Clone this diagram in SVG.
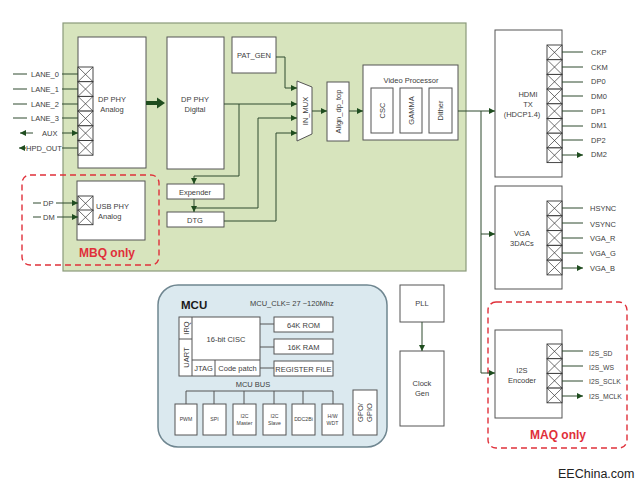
<svg xmlns="http://www.w3.org/2000/svg" xmlns:xlink="http://www.w3.org/1999/xlink" width="640" height="485" viewBox="0 0 640 485">
<style>
text{font-family:"Liberation Sans","Open Sans",sans-serif;fill:#404040;font-size:7.5px}
.c{text-anchor:middle}
.box{fill:#fff;stroke:#555;stroke-width:1}
.ln{fill:none;stroke:#2f4a2f;stroke-width:1}
.ar{fill:none;stroke:#2f4a2f;stroke-width:1;marker-end:url(#ah)}
.dash{fill:none;stroke:#e0303a;stroke-width:1.4;stroke-dasharray:6 4}
.red{fill:#e0303a;font-weight:bold;font-size:12px}
.sm{font-size:5.2px}
.s7{font-size:6.8px}
</style>
<defs>
<marker id="ah" viewBox="0 0 10 10" refX="10" refY="5" markerWidth="7" markerHeight="6" markerUnits="userSpaceOnUse" orient="auto"><path d="M0,0L10,5L0,10z" fill="#1f4d1f"/></marker>
<g id="xc"><rect width="15" height="14.7" fill="#fff" stroke="#333" stroke-width="0.9"/><path d="M0,0L15,14.7M15,0L0,14.7" stroke="#333" stroke-width="0.7"/></g>
</defs>

<g id="main-block"><rect x="63" y="23" width="403" height="248" fill="#d7e4bd" stroke="#8a9a7a" stroke-width="1.2"/></g>

<g id="dp-phy-analog">
<rect class="box" x="78" y="37" width="68" height="131"/>
<use xlink:href="#xc" x="78" y="67"/><use xlink:href="#xc" x="78" y="81.7"/><use xlink:href="#xc" x="78" y="96.4"/><use xlink:href="#xc" x="78" y="111.1"/><use xlink:href="#xc" x="78" y="125.8"/><use xlink:href="#xc" x="78" y="140.5"/>
<text class="c" x="112" y="102">DP PHY</text><text class="c" x="112" y="112">Analog</text>
</g>

<g id="lanes">
<path class="ln" d="M13,74H27M13,89H27M13,104H27M13,118H27"/>
<text x="31" y="77">LANE_0</text><text x="31" y="92">LANE_1</text><text x="31" y="107">LANE_2</text><text x="31" y="121">LANE_3</text>
<text x="42" y="136">AUX</text><text x="26" y="151">HPD_OUT</text>
</g>

<g id="dp-phy-digital"><rect class="box" x="167" y="37" width="57" height="132"/><text class="c" x="195" y="102">DP PHY</text><text class="c" x="195" y="112">Digital</text></g>
<g id="pat-gen"><rect class="box" x="232" y="37" width="44" height="36"/><text class="c" x="254" y="58">PAT_GEN</text></g>
<g id="expender"><rect class="box" x="167" y="184" width="57" height="15"/><text class="c" x="195" y="194.5">Expender</text></g>
<g id="dtg"><rect class="box" x="167" y="212" width="57" height="15"/><text class="c" x="195" y="222.5">DTG</text></g>
<g id="in-mux"><polygon class="box" points="297,81 312,87 312,134 297,141"/><text class="c" transform="translate(307.5,111) rotate(-90)">IN_MUX</text></g>
<g id="align"><rect class="box" x="327" y="82" width="22" height="59"/><text class="c" transform="translate(340.5,111.5) rotate(-90)">Align_dp_top</text></g>
<g id="video-processor">
<rect class="box" x="363" y="65" width="95" height="75"/>
<text class="c" x="411" y="83">Video Processor</text>
<rect class="box" x="371" y="88" width="22" height="45"/><text class="c" transform="translate(384.5,110.5) rotate(-90)">CSC</text>
<rect class="box" x="400" y="88" width="22" height="45"/><text class="c" transform="translate(413.5,110.5) rotate(-90)">GAMMA</text>
<rect class="box" x="429" y="88" width="23" height="45"/><text class="c" transform="translate(443,110.5) rotate(-90)">Dither</text>
</g>

<g id="hdmi">
<rect class="box" x="495" y="30" width="67" height="147"/>
<use xlink:href="#xc" x="547" y="45"/><use xlink:href="#xc" x="547" y="59.7"/><use xlink:href="#xc" x="547" y="74.4"/><use xlink:href="#xc" x="547" y="89.1"/><use xlink:href="#xc" x="547" y="103.8"/><use xlink:href="#xc" x="547" y="118.5"/><use xlink:href="#xc" x="547" y="133.2"/><use xlink:href="#xc" x="547" y="147.9"/>
<text class="c" x="528" y="97">HDMI</text><text class="c" x="528" y="107">TX</text><text class="c" x="522" y="117">(HDCP1.4)</text>
<text x="591" y="55">CKP</text><text x="591" y="70">CKM</text><text x="591" y="84">DP0</text><text x="591" y="99">DM0</text><text x="591" y="114">DP1</text><text x="591" y="128">DM1</text><text x="591" y="143">DP2</text><text x="591" y="157">DM2</text>
</g>

<g id="vga">
<rect class="box" x="495" y="186" width="67" height="103"/>
<use xlink:href="#xc" x="547" y="201"/><use xlink:href="#xc" x="547" y="215.8"/><use xlink:href="#xc" x="547" y="230.6"/><use xlink:href="#xc" x="547" y="245.4"/><use xlink:href="#xc" x="547" y="260.2"/>
<text class="c" x="522" y="236">VGA</text><text class="c" x="522" y="246">3DACs</text>
<text x="590" y="211">HSYNC</text><text x="590" y="227">VSYNC</text><text x="590" y="241">VGA_R</text><text x="590" y="256">VGA_G</text><text x="590" y="271">VGA_B</text>
</g>

<g id="i2s">
<rect class="box" x="495" y="330" width="67" height="88"/>
<use xlink:href="#xc" x="547" y="344"/><use xlink:href="#xc" x="547" y="358.7"/><use xlink:href="#xc" x="547" y="373.4"/><use xlink:href="#xc" x="547" y="388.1"/>
<text class="c" x="522" y="373">I2S</text><text class="c" x="522" y="383">Encoder</text>
<text class="s7" x="589" y="356">I2S_SD</text><text class="s7" x="589" y="370">I2S_WS</text><text class="s7" x="589" y="384">I2S_SCLK</text><text class="s7" x="589" y="399">I2S_MCLK</text>
</g>

<g id="maq-only"><rect class="dash" x="488" y="302" width="139" height="146" rx="8"/><text class="red c" x="558" y="439">MAQ only</text></g>

<g id="usb-phy">
<rect class="box" x="77" y="181" width="68" height="59"/>
<use xlink:href="#xc" x="78" y="196"/><use xlink:href="#xc" x="78" y="210"/>
<text x="96" y="209">USB PHY</text><text x="98" y="219">Analog</text>
<path class="ln" d="M33,203H41M33,217H41"/><text x="43" y="206">DP</text><text x="43" y="220">DM</text>
</g>
<g id="mbq-only"><rect class="dash" x="22" y="175" width="137" height="90" rx="8"/><text class="red c" x="107" y="257">MBQ only</text></g>

<g id="mcu">
<rect x="158" y="285" width="229" height="162" rx="20" fill="#dbe9ef" stroke="#6f8690" stroke-width="1.5"/>
<text x="181" y="309" style="font-size:11.5px;font-weight:bold;fill:#1a1a1a">MCU</text>
<text x="250" y="306">MCU_CLK= 27 ~120Mhz</text>
<rect class="box" x="179" y="317" width="81" height="59"/>
<path d="M192,317V376M179,339H192M192,360H260M215,360V376" stroke="#555" fill="none"/>
<text class="c" transform="translate(188.5,328) rotate(-90)">IRQ</text>
<text class="c" transform="translate(188.5,357.5) rotate(-90)">UART</text>
<text class="c" x="226" y="342">16-bit CISC</text>
<text class="c" x="203.5" y="371">JTAG</text><text class="c" x="237.5" y="371">Code patch</text>
<rect class="box" x="274" y="317" width="59" height="15"/><text class="c" x="303.5" y="327.5">64K ROM</text>
<rect class="box" x="274" y="339" width="59" height="15"/><text class="c" x="303.5" y="349.5">16K RAM</text>
<rect class="box" x="274" y="361" width="59" height="15"/><text class="c" x="303.5" y="371.5">REGISTER FILE</text>
<path d="M260,324H274M260,347H274M260,368H274" stroke="#555" fill="none"/>
<text class="c" x="253" y="387">MCU BUS</text>
<path d="M186,391H333M186,391V404M214,391V404M244,391V404M274,391V404M303,391V404M333,391V404" stroke="#555" fill="none"/>
<rect class="box" x="175" y="404" width="22" height="31"/><text class="c sm" x="186" y="421">PWM</text>
<rect class="box" x="203" y="404" width="23" height="31"/><text class="c sm" x="214.5" y="421">SPI</text>
<rect class="box" x="233" y="404" width="23" height="31"/><text class="c sm" x="244.5" y="418">I2C</text><text class="c sm" x="244.5" y="424.5">Master</text>
<rect class="box" x="263" y="404" width="23" height="31"/><text class="c sm" x="274.5" y="418">I2C</text><text class="c sm" x="274.5" y="424.5">Slave</text>
<rect class="box" x="292" y="404" width="23" height="31"/><text class="c sm" x="303.5" y="421">DDC2Bi</text>
<rect class="box" x="322" y="404" width="21" height="31"/><text class="c sm" x="332.5" y="418">H/W</text><text class="c sm" x="332.5" y="424.5">WDT</text>
<rect class="box" x="353" y="390" width="24" height="45"/>
<text class="c" transform="translate(363,412.5) rotate(-90)">GPO/</text><text class="c" transform="translate(372,412.5) rotate(-90)">GPIO</text>
</g>

<g id="pll"><rect class="box" x="400" y="285" width="44" height="37"/><text class="c" x="422" y="306">PLL</text></g>
<g id="clock-gen"><rect class="box" x="400" y="351" width="44" height="75"/><text class="c" x="422" y="386">Clock</text><text class="c" x="422" y="396">Gen</text></g>

<g id="connectors">
<path class="ar" d="M62,74H78M62,89H78M62,104H78M62,118H78M62,133H78"/>
<path class="ar" d="M33,133H20"/>
<path class="ln" d="M62,148H78"/>
<path class="ar" d="M26,148H19"/>
<path class="ar" d="M56,203H78"/><path class="ar" d="M57,217H78"/>
<path d="M146,101H157V97.5L165,103L157,108.5V105H146z" fill="#1f4d1f"/>
<path class="ar" d="M276,57H285V88H297"/>
<path class="ar" d="M224,104H297"/>
<path class="ar" d="M239,104V176H194V184"/>
<path class="ar" d="M194,199V212"/>
<path class="ar" d="M194,208H258V118H297"/>
<path class="ar" d="M224,221H276V133H297"/>
<path class="ar" d="M312,111H327"/>
<path class="ar" d="M349,111H363"/>
<path class="ar" d="M458,111H495"/>
<path class="ar" d="M481,111V373H495"/>
<path class="ar" d="M481,234H495"/>
<path class="ar" d="M562,52H583M562,67H583M562,82H583M562,96H583M562,111H583M562,126H583M562,140H583M562,155H583"/>
<path class="ar" d="M562,208H583M562,223H583M562,238H583M562,253H583M562,268H583"/>
<path class="ar" d="M562,351H583M562,366H583M562,381H583M562,396H583"/>
<path class="ar" d="M422,322V351"/>
</g>

<text x="558" y="478" style="font-size:12.5px;fill:#222">EEChina.com</text>
</svg>
